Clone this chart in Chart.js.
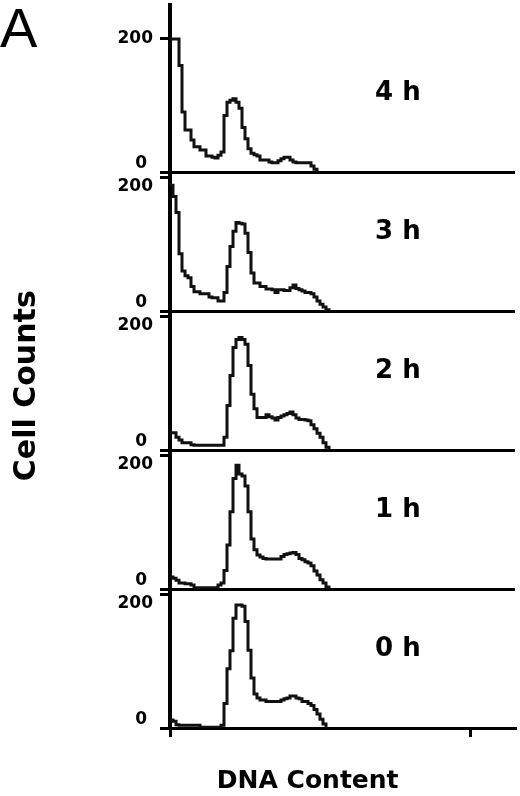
<!DOCTYPE html>
<html>
<head>
<meta charset="utf-8">
<script src="https://cdn.jsdelivr.net/npm/chart.js"></script>
<style>
  body { margin: 0; background: #fff; }
  #wrap { position: relative; width: 520px; height: 796px; }
  #chart1 { position: absolute; left: 0; top: 0; }
  .lbl { position: absolute; left: 375px; font-family: "DejaVu Sans"; font-weight: bold; font-size: 26px; line-height: 1; color: #000; white-space: pre; }
  #letter { position: absolute; left: 0; top: 0; font-family: "Liberation Sans"; font-size: 56px; line-height: 1; color: #000; }
</style>
</head>
<body>
<div id="wrap">
  <canvas id="chart1" width="520" height="796"></canvas>
  <div id="letter">A</div>
  <div class="lbl" style="top:78px">4 h</div>
  <div class="lbl" style="top:217px">3 h</div>
  <div class="lbl" style="top:356px">2 h</div>
  <div class="lbl" style="top:495px">1 h</div>
  <div class="lbl" style="top:634px">0 h</div>
</div>
<script>
// DATA (cell counts per DNA channel, channel = array index)
const panels = ['0 h', '1 h', '2 h', '3 h', '4 h'];
const yTicks = [0, 200];
const xTicks = [0, 100];

const counts4h = [200, 200, 200, 160, 90, 63, 63, 48, 38, 38, 33, 33, 24, 24, 22, 21, 25, 30, 85, 105,
  108, 110, 105, 96, 67, 50, 35, 28, 26, 24, 18, 18, 18, 15, 14, 14, 17, 20, 22, 22,
  18, 15, 14, 14, 14, 14, 14, 9, 4, 0];
const counts3h = [189, 172, 148, 86, 60, 53, 50, 37, 29, 29, 26, 26, 26, 21, 20, 20, 15, 15, 28, 67,
  97, 120, 133, 132, 131, 117, 88, 57, 42, 42, 37, 37, 33, 33, 32, 28, 32, 32, 31, 31,
  35, 39, 34, 32, 30, 28, 28, 26, 21, 15, 10, 6, 2, 0];
const counts2h = [26, 26, 19, 15, 11, 11, 11, 8, 7, 7, 7, 7, 7, 7, 7, 7, 7, 7, 19, 67,
  112, 154, 166, 169, 166, 159, 127, 84, 62, 49, 49, 49, 53, 50, 48, 45, 49, 51, 53, 55,
  57, 53, 48, 46, 46, 45, 44, 38, 32, 25, 19, 11, 4, 0];
const counts1h = [18, 16, 13, 9, 9, 8, 8, 6, 2, 2, 2, 2, 2, 2, 2, 2, 6, 9, 28, 66,
  116, 166, 186, 173, 170, 155, 116, 75, 59, 51, 48, 46, 45, 45, 45, 45, 45, 49, 52, 53,
  54, 55, 52, 46, 44, 41, 39, 35, 27, 21, 14, 9, 3, 0];
const counts0h = [12, 10, 5, 4, 4, 4, 4, 4, 4, 4, 1, 1, 1, 1, 1, 1, 1, 4, 37, 89,
  116, 165, 185, 185, 183, 160, 117, 75, 51, 45, 42, 42, 40, 40, 40, 40, 40, 42, 44, 45,
  48, 48, 45, 44, 40, 40, 37, 34, 28, 21, 13, 6, 0];

const allCounts = [counts0h, counts1h, counts2h, counts3h, counts4h];

// FONTS
const tickFont = { family: 'DejaVu Sans', weight: 'bold', size: 17, lineHeight: 1 };
const titleFont = { family: 'DejaVu Sans', weight: 'bold', size: 25 };

function toPoints(values) {
  return values.map((v, i) => ({ x: i, y: v }));
}

// no extra room for labels sticking out past the axis ends
function noPadding(s) {
  s.paddingTop = 0;
  s.paddingBottom = 0;
  s.paddingLeft = 0;
  s.paddingRight = 0;
}

// ONE Y AXIS PER PANEL, STACKED ON THE LEFT
function panelAxis(max, weight, isTop, title) {
  return {
    type: 'linear',
    position: 'left',
    stack: 'panels',
    stackWeight: weight,
    min: 0,
    max: max,
    afterFit: s => { s.width = 170; noPadding(s); },
    afterBuildTicks: s => { s.ticks = yTicks.map(v => ({ value: v })); },
    ticks: {
      font: tickFont,
      color: '#000',
      padding: 7,
      autoSkip: false,
      callback: v => v === 0 ? ['0 ', ''] : (isTop ? String(v) : ['', String(v)])
    },
    grid: {
      drawOnChartArea: true,
      color: c => (c.tick && c.tick.value === 0) ? '#000' : 'rgba(0,0,0,0)',
      lineWidth: 3,
      drawTicks: true,
      tickLength: 10,
      tickColor: '#000',
      tickWidth: 3
    },
    border: { display: true, color: '#000', width: 4 },
    title: title ? {
      display: true,
      text: title,
      color: '#000',
      font: { family: 'DejaVu Sans', weight: 'bold', size: 30 },
      padding: { top: 9, bottom: 0 }
    } : { display: false }
  };
}

let scales = {
  x: {
    type: 'linear',
    min: 0,
    max: 115,
    afterBuildTicks: s => { s.ticks = xTicks.map(v => ({ value: v })); },
    afterFit: s => { s.height = 68; noPadding(s); },
    ticks: { display: false },
    grid: { drawOnChartArea: false, drawTicks: true, tickLength: 9, tickColor: '#000', tickWidth: 3, lineWidth: 3 },
    border: { color: '#000', width: 3 },
    // trailing spaces move the centred title left, as in the figure
    title: { display: true, text: 'DNA Content        ', color: '#000', font: titleFont, padding: { top: 0, bottom: 0 } }
  },
  y0: panelAxis(209, 139, false),
  y1: panelAxis(209, 139, false),
  y2: panelAxis(209, 139, false, 'Cell Counts '),
  y3: panelAxis(209, 139, false),
  y4: panelAxis(251, 167, true)
};

let datasets = allCounts.map((values, i) => ({
  label: panels[i],
  data: toPoints(values),
  yAxisID: 'y' + i,
  stepped: true,
  borderColor: '#111',
  borderWidth: 3,
  pointRadius: 0,
  fill: false
}));

// CHART
let ctx = document.getElementById('chart1').getContext('2d');
let myChart = new Chart(ctx, {
  type: 'line',
  data: { datasets: datasets },
  options: {
    responsive: false,
    animation: false,
    devicePixelRatio: 1,
    layout: { padding: { top: 5, right: 5, bottom: 0, left: 0 } },
    plugins: { legend: { display: false }, tooltip: { enabled: false } },
    scales: scales
  }
});
</script>
</body>
</html>
